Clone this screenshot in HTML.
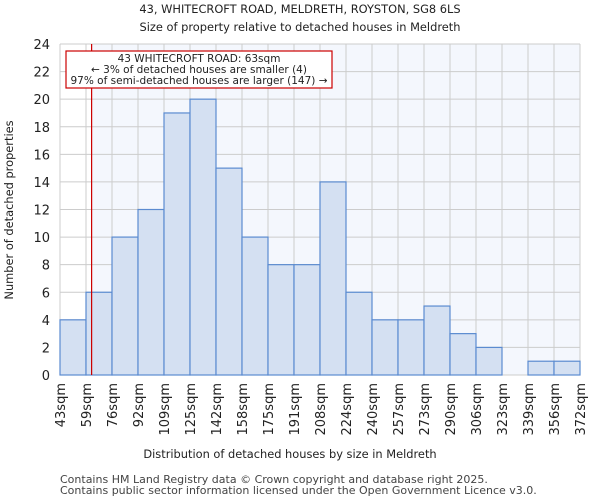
<!DOCTYPE html>
<html><head><meta charset="utf-8"><style>
body{margin:0;background:#fff;font-family:"DejaVu Sans","Liberation Sans",sans-serif;}
</style></head><body>
<svg width="600" height="500" xmlns="http://www.w3.org/2000/svg" font-family="DejaVu Sans, Liberation Sans, sans-serif">
<text x="300" y="13" text-anchor="middle" font-size="11.4" fill="#222">43, WHITECROFT ROAD, MELDRETH, ROYSTON, SG8 6LS</text>
<text x="300" y="31" text-anchor="middle" font-size="11.4" fill="#222">Size of property relative to detached houses in Meldreth</text>
<g id="plot"></g>
<text x="290" y="458" text-anchor="middle" font-size="11.4" fill="#222">Distribution of detached houses by size in Meldreth</text>
<text transform="translate(13,210) rotate(-90)" text-anchor="middle" font-size="11.4" fill="#222">Number of detached properties</text>
<text x="60" y="483" font-size="11" fill="#444">Contains HM Land Registry data © Crown copyright and database right 2025.</text>
<text x="60" y="494" font-size="11" fill="#444">Contains public sector information licensed under the Open Government Licence v3.0.</text>
</svg>
<script>
const tickLabels=["43sqm","59sqm","76sqm","92sqm","109sqm","125sqm","142sqm","158sqm","175sqm","191sqm","208sqm","224sqm","240sqm","257sqm","273sqm","290sqm","306sqm","323sqm","339sqm","356sqm","372sqm"];
const counts=[4,6,10,12,19,20,15,10,8,8,14,6,4,4,5,3,2,0,1,1];
const yTicks=[0,2,4,6,8,10,12,14,16,18,20,22,24];
const propertySize=63;
const binStart=43, binWidth=16.45;
const L=60,R=580,T=44,B=375,yMax=24;
const ns="http://www.w3.org/2000/svg";
const g=document.getElementById('plot');
const bw=(R-L)/counts.length;
const xs=v=>L+(v-binStart)/binWidth*bw;
const ys=v=>B-v/yMax*(B-T);
function mk(t,a,p){const e=document.createElementNS(ns,t);for(const k in a)e.setAttribute(k,a[k]);(p||g).appendChild(e);return e;}
const rx=xs(propertySize);
let e=mk('rect',{x:L,y:T,width:R-L,height:B-T,fill:'#fff'});


e=mk('rect',{x:rx,y:T,width:R-rx,height:B-T,fill:'#f4f7fd'});


yTicks.forEach(v=>{
 const l=mk('line',{x1:L,x2:R,y1:ys(v),y2:ys(v),stroke:'#ccc','stroke-width':1});
 
 
 const t=mk('text',{x:L-10,y:ys(v)+5,'text-anchor':'end','font-size':13,fill:'#222'});
 t.textContent=v;
 
 
});
tickLabels.forEach((s,i)=>{
 const x=L+i*bw;
 const l=mk('line',{x1:x,x2:x,y1:T,y2:B,stroke:'#ccc','stroke-width':1});
 
 
 const t=mk('text',{transform:`translate(${x+5},${B+8}) rotate(-90)`,'text-anchor':'end','font-size':13,fill:'#222'});
 t.textContent=s;
 
 
});
counts.forEach((c,i)=>{
 if(c<=0)return;
 const r=mk('rect',{x:L+i*bw,y:ys(c),width:bw,height:B-ys(c),fill:'#d4e0f2',stroke:'#5b8bd0','stroke-width':1.2});
 
 
});
e=mk('line',{x1:rx,x2:rx,y1:T,y2:B,stroke:'#c00','stroke-width':1.2});


const ag=mk('g',{});


mk('rect',{x:66,y:51,width:266,height:37,fill:'#fff',stroke:'#c00','stroke-width':1.2},ag);
["43 WHITECROFT ROAD: 63sqm","← 3% of detached houses are smaller (4)","97% of semi-detached houses are larger (147) →"].forEach((s,i)=>{
 const t=mk('text',{x:199,y:62+i*11,'text-anchor':'middle','font-size':10.5,fill:'#222'},ag);
 t.textContent=s;
 
 
});
</script>
</body></html>
